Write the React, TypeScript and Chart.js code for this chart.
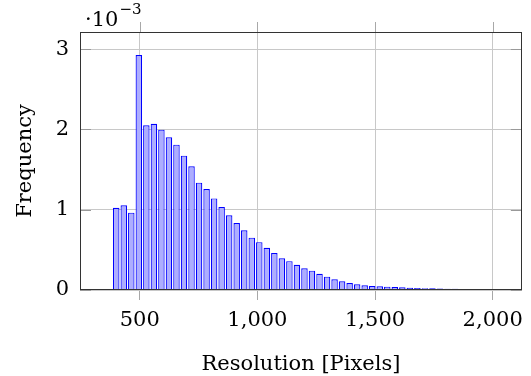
import React, { useEffect, useRef } from 'react';
import { Chart, registerables } from 'chart.js';

Chart.register(...registerables);

// Bin centers (resolution in pixels, bins of 32 px)
const binCenters = [
  400, 432, 464, 496, 528, 560, 592, 624, 656, 688,
  720, 752, 784, 816, 848, 880, 912, 944, 976, 1008,
  1040, 1072, 1104, 1136, 1168, 1200, 1232, 1264, 1296, 1328,
  1360, 1392, 1424, 1456, 1488, 1520, 1552, 1584, 1616, 1648,
  1680, 1712, 1744, 1776, 1808, 1840, 1872, 1904, 1936, 1968,
];

// Frequency per bin
const frequencies = [
  1.025e-3, 1.055e-3, 0.963e-3, 2.926e-3, 2.051e-3, 2.071e-3, 1.997e-3, 1.901e-3, 1.81e-3, 1.673e-3,
  1.54e-3, 1.337e-3, 1.258e-3, 1.141e-3, 1.034e-3, 0.93e-3, 0.834e-3, 0.743e-3, 0.652e-3, 0.596e-3,
  0.527e-3, 0.461e-3, 0.394e-3, 0.359e-3, 0.315e-3, 0.27e-3, 0.241e-3, 0.203e-3, 0.166e-3, 0.133e-3,
  0.108e-3, 0.087e-3, 0.071e-3, 0.058e-3, 0.05e-3, 0.046e-3, 0.042e-3, 0.037e-3, 0.033e-3, 0.027e-3,
  0.024e-3, 0.022e-3, 0.021e-3, 0.019e-3, 0.017e-3, 0.015e-3, 0.013e-3, 0.011e-3, 0.01e-3, 0.008e-3,
];

const xTickValues = [500, 1000, 1500, 2000];
const yTickValues = [0, 1e-3, 2e-3, 3e-3];

const X_MIN = 246;
const X_MAX = 2124;
const Y_MAX = 3.213e-3;

const FONT = '"DejaVu Serif", "Liberation Serif", serif';

const framePlugin = {
  id: 'frame',
  afterDatasetsDraw(chart: any) {
    const { ctx, chartArea: a, scales } = chart;
    ctx.save();
    ctx.lineWidth = 1;
    // x tick marks above the top frame
    ctx.strokeStyle = '#a8a8a8';
    scales.x.ticks.forEach((t: any) => {
      const px = Math.round(scales.x.getPixelForValue(t.value)) + 0.5;
      ctx.beginPath();
      ctx.moveTo(px, a.top - 10);
      ctx.lineTo(px, a.top);
      ctx.stroke();
    });
    // y tick marks inside, both sides
    ctx.strokeStyle = '#999';
    scales.y.ticks.forEach((t: any) => {
      const py = Math.round(scales.y.getPixelForValue(t.value)) + 0.5;
      ctx.beginPath();
      ctx.moveTo(a.left, py);
      ctx.lineTo(a.left + 11, py);
      ctx.moveTo(a.right - 11, py);
      ctx.lineTo(a.right, py);
      ctx.stroke();
    });
    // frame
    ctx.strokeStyle = '#333';
    ctx.strokeRect(
      Math.round(a.left) + 0.5,
      Math.round(a.top) + 0.5,
      Math.round(a.right - a.left) - 1,
      Math.round(a.bottom - a.top) - 1
    );
    // exponent label
    ctx.fillStyle = '#000';
    ctx.textBaseline = 'alphabetic';
    ctx.textAlign = 'left';
    ctx.font = `21px ${FONT}`;
    const base = '\u00B710';
    ctx.fillText(base, a.left + 5, a.top - 6);
    const w = ctx.measureText(base).width;
    ctx.font = `15px ${FONT}`;
    ctx.fillText('\u22123', a.left + 5 + w + 1, a.top - 18);
    ctx.restore();
  },
};

export default function App() {
  const canvasRef = useRef<HTMLCanvasElement | null>(null);

  useEffect(() => {
    const canvas = canvasRef.current;
    if (!canvas) return;
    const chart = new Chart(canvas, {
      type: 'bar',
      data: {
        datasets: [
          {
            data: binCenters.map((x, i) => ({ x, y: frequencies[i] })),
            backgroundColor: '#adadff',
            borderColor: '#0000ff',
            borderWidth: 1.2,
            barPercentage: 0.86,
            categoryPercentage: 1,
          },
        ],
      },
      options: {
        responsive: false,
        animation: false,
        devicePixelRatio: 1,
        layout: { padding: { top: 32, right: 4, left: 0, bottom: 0 } },
        plugins: {
          legend: { display: false },
          tooltip: { enabled: false },
        },
        scales: {
          x: {
            type: 'linear',
            min: X_MIN,
            max: X_MAX,
            offset: false,
            afterBuildTicks: (scale: any) => {
              scale.ticks = xTickValues.map((v) => ({ value: v }));
            },
            afterFit: (scale: any) => {
              scale.height = 86;
            },
            grid: {
              offset: false,
              color: '#c8c8c8',
              lineWidth: 1,
              drawTicks: true,
              tickLength: 10,
              tickColor: '#a8a8a8',
            },
            border: { display: false },
            ticks: {
              padding: 8,
              color: '#000',
              font: { family: FONT, size: 21 },
              maxRotation: 0,
              callback: (v: any) => Number(v).toLocaleString('en-US'),
            },
            title: {
              display: true,
              text: 'Resolution [Pixels]',
              color: '#000',
              font: { family: FONT, size: 21 },
              padding: { top: 0, bottom: -1 },
            },
          },
          y: {
            type: 'linear',
            min: 0,
            max: Y_MAX,
            afterBuildTicks: (scale: any) => {
              scale.ticks = yTickValues.map((v) => ({ value: v }));
            },
            afterFit: (scale: any) => {
              scale.width = 80;
            },
            grid: {
              color: '#c8c8c8',
              lineWidth: 1,
              drawTicks: false,
            },
            border: { display: false },
            ticks: {
              padding: 11,
              color: '#000',
              font: { family: FONT, size: 21 },
              callback: (v: any) => String(Math.round(Number(v) * 1000)),
            },
            title: {
              display: true,
              text: 'Frequency',
              color: '#000',
              font: { family: FONT, size: 21 },
              padding: { top: 13, bottom: 0 },
            },
          },
        },
      },
      plugins: [framePlugin],
    } as any);
    return () => chart.destroy();
  }, []);

  return (
    <div style={{ position: 'fixed', left: 0, top: 0, width: 531, height: 376, background: '#fff' }}>
      <canvas ref={canvasRef} width={531} height={376} style={{ display: 'block' }} />
    </div>
  );
}
